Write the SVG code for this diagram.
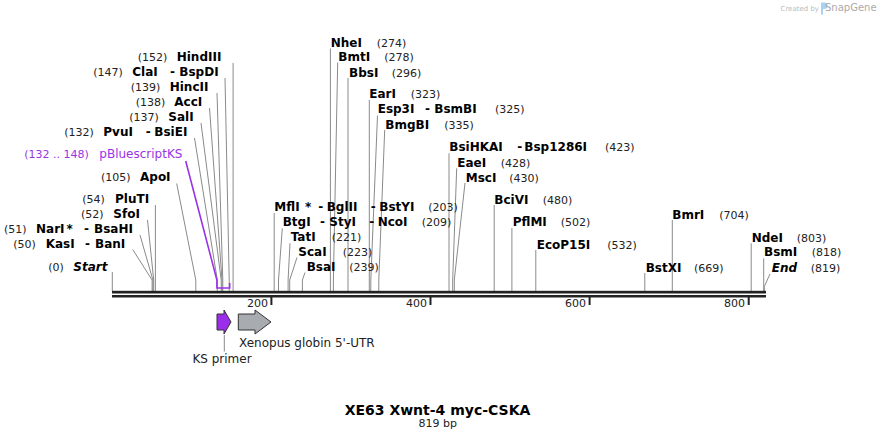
<svg xmlns="http://www.w3.org/2000/svg" width="878" height="441" viewBox="0 0 878 441">
<style>
text{font-family:"DejaVu Sans",Verdana,sans-serif}
.b{font-size:12px;font-weight:bold;fill:#000}
.bi{font-size:12px;font-weight:bold;font-style:italic;fill:#000}
.n{font-size:11px;fill:#222}
.p{font-size:12px;fill:#9933e6}
.pn{font-size:11px;fill:#9933e6}
.f{font-size:12px;fill:#222}
.ln{stroke:#8a8a8a;stroke-width:1;fill:none}
.tk{stroke:#222;stroke-width:2}
.tl{font-size:11px;fill:#222;text-anchor:end}
</style>
<rect width="878" height="441" fill="#fff"/>
<g id="watermark">
<text x="780.5" y="10.5" style="font-size:7px;fill:#bbb">Created by</text>
<path d="M821 2.5h3.2a3.3 3.3 0 0 1 0 6.6h-1.2v5.4h-2z" fill="#a9d1f2"/>
<text x="825" y="11" style="font-size:10px;fill:#aaa">SnapGene</text>
</g>
<g id="connectors">
<path class="ln" d="M233.1 63V291"/>
<path class="ln" d="M225 78L229.2 280V291"/>
<path class="ln" d="M217 93L222.8 280V291"/>
<path class="ln" d="M209.5 108L222 280V291"/>
<path class="ln" d="M201 123L221.2 280V291"/>
<path class="ln" d="M194.5 138L217.3 280V291"/>
<path class="ln" d="M176.7 183.5L195.8 280V291"/>
<path class="ln" d="M155.4 205V291"/>
<path class="ln" d="M147.5 220L153.7 280V291"/>
<path class="ln" d="M140 235L152.9 280V291"/>
<path class="ln" d="M132.7 249.5L152.1 280V291"/>
<path class="ln" d="M112.3 272V291"/>
<path class="ln" d="M330.4 48.5V291"/>
<path class="ln" d="M337.7 62.5L333.4 280V291"/>
<path class="ln" d="M348 78V291"/>
<path class="ln" d="M369.3 100V291"/>
<path class="ln" d="M377.5 115.5L370.8 280V291"/>
<path class="ln" d="M384.7 130L378.8 280V291"/>
<path class="ln" d="M274.2 213V291"/>
<path class="ln" d="M282.3 228.3L278.5 280V291"/>
<path class="ln" d="M290 243.3L288.1 280V291"/>
<path class="ln" d="M297 257.5L289.7 280V291"/>
<path class="ln" d="M305 272.5L302.4 280V291"/>
<path class="ln" d="M449 153.3V291"/>
<path class="ln" d="M456.7 168.3L452.7 280V291"/>
<path class="ln" d="M465 183L454.3 280V291"/>
<path class="ln" d="M494.2 205V291"/>
<path class="ln" d="M511.9 228V291"/>
<path class="ln" d="M535.8 250V291"/>
<path class="ln" d="M672.3 220V291"/>
<path class="ln" d="M644.8 273V291"/>
<path class="ln" d="M751.2 243.3V291"/>
<path class="ln" d="M763.7 258.3V291"/>
<path class="ln" d="M770 274L764.3 286.5V291"/>
<path d="M185.7 161L216.9 280V288H229.7V283" fill="none" stroke="#9933e6" stroke-width="1.6"/>
<path class="ln" d="M224.3 335V351.5"/>
</g>
<g id="backbone">
<rect x="112" y="290.8" width="654" height="2.7" fill="#222"/>
<rect x="112" y="295" width="654" height="2.5" fill="#222"/>
<line class="tk" x1="271.4" y1="297" x2="271.4" y2="305"/>
<line class="tk" x1="430.5" y1="297" x2="430.5" y2="305"/>
<line class="tk" x1="589.6" y1="297" x2="589.6" y2="305"/>
<line class="tk" x1="748.7" y1="297" x2="748.7" y2="305"/>
<text class="tl" x="268" y="307">200</text>
<text class="tl" x="427" y="307">400</text>
<text class="tl" x="586" y="307">600</text>
<text class="tl" x="745" y="307">800</text>
</g>
<g id="HindIII"><text y="61"><tspan class="n" x="137.7">(152)</tspan><tspan class="b" x="176.7">HindIII</tspan></text></g>
<g id="ClaI"><text y="76"><tspan class="n" x="93.3">(147)</tspan><tspan class="b" x="132.3">ClaI</tspan><tspan class="b" x="170">-</tspan><tspan class="b" x="179.3">BspDI</tspan></text></g>
<g id="HincII"><text y="91"><tspan class="n" x="130.7">(139)</tspan><tspan class="b" x="169.7">HincII</tspan></text></g>
<g id="AccI"><text y="106"><tspan class="n" x="135.7">(138)</tspan><tspan class="b" x="174.3">AccI</tspan></text></g>
<g id="SalI"><text y="121"><tspan class="n" x="129.3">(137)</tspan><tspan class="b" x="168.3">SalI</tspan></text></g>
<g id="PvuI"><text y="136"><tspan class="n" x="64.3">(132)</tspan><tspan class="b" x="103.3">PvuI</tspan><tspan class="b" x="145.7">-</tspan><tspan class="b" x="154.3">BsiEI</tspan></text></g>
<g id="pBluescriptKS"><text y="158"><tspan class="pn" x="24.3">(132 .. 148)</tspan><tspan class="p" x="99.3">pBluescriptKS</tspan></text></g>
<g id="ApoI"><text y="181"><tspan class="n" x="101">(105)</tspan><tspan class="b" x="140">ApoI</tspan></text></g>
<g id="PluTI"><text y="203"><tspan class="n" x="82.3">(54)</tspan><tspan class="b" x="115">PluTI</tspan></text></g>
<g id="SfoI"><text y="217.5"><tspan class="n" x="81">(52)</tspan><tspan class="b" x="113.3">SfoI</tspan></text></g>
<g id="NarI"><text y="233"><tspan class="b" x="36">NarI</tspan><tspan class="n" x="4">(51)</tspan><tspan class="b" x="66.5">*</tspan><tspan class="b" x="84">-</tspan><tspan class="b" x="94">BsaHI</tspan></text></g>
<g id="KasI"><text y="247.5"><tspan class="n" x="13.3">(50)</tspan><tspan class="b" x="45.7">KasI</tspan><tspan class="b" x="85">-</tspan><tspan class="b" x="95">BanI</tspan></text></g>
<g id="Start"><text y="271"><tspan class="n" x="48.3">(0)</tspan><tspan class="bi" x="73.3">Start</tspan></text></g>
<g id="NheI"><text y="46.5"><tspan class="b" x="330.7">NheI</tspan><tspan class="n" x="376.7">(274)</tspan></text></g>
<g id="BmtI"><text y="61"><tspan class="b" x="338.3">BmtI</tspan><tspan class="n" x="384.3">(278)</tspan></text></g>
<g id="BbsI"><text y="76.5"><tspan class="b" x="349">BbsI</tspan><tspan class="n" x="391.7">(296)</tspan></text></g>
<g id="EarI"><text y="98"><tspan class="b" x="369.3">EarI</tspan><tspan class="n" x="410.7">(323)</tspan></text></g>
<g id="Esp3I"><text y="113"><tspan class="b" x="377.7">Esp3I</tspan><tspan class="b" x="425">-</tspan><tspan class="b" x="434.3">BsmBI</tspan><tspan class="n" x="495">(325)</tspan></text></g>
<g id="BmgBI"><text y="128.5"><tspan class="b" x="385.3">BmgBI</tspan><tspan class="n" x="444.3">(335)</tspan></text></g>
<g id="MflI"><text y="211"><tspan class="b" x="274.3">MflI</tspan><tspan class="b" x="305">*</tspan><tspan class="b" x="318.3">-</tspan><tspan class="b" x="326.7">BglII</tspan><tspan class="b" x="370.7">-</tspan><tspan class="b" x="379.3">BstYI</tspan><tspan class="n" x="428.3">(203)</tspan></text></g>
<g id="BtgI"><text y="226"><tspan class="b" x="282.7">BtgI</tspan><tspan class="b" x="320">-</tspan><tspan class="b" x="329.3">StyI</tspan><tspan class="b" x="369.3">-</tspan><tspan class="b" x="377.7">NcoI</tspan><tspan class="n" x="421.7">(209)</tspan></text></g>
<g id="TatI"><text y="241"><tspan class="b" x="290.7">TatI</tspan><tspan class="n" x="331.7">(221)</tspan></text></g>
<g id="ScaI"><text y="256"><tspan class="b" x="298.3">ScaI</tspan><tspan class="n" x="342.7">(223)</tspan></text></g>
<g id="BsaI"><text y="271"><tspan class="b" x="306.7">BsaI</tspan><tspan class="n" x="349.3">(239)</tspan></text></g>
<g id="BsiHKAI"><text y="151"><tspan class="b" x="449.3">BsiHKAI</tspan><tspan class="b" x="517.3">-</tspan><tspan class="b" x="524.3">Bsp1286I</tspan><tspan class="n" x="605">(423)</tspan></text></g>
<g id="EaeI"><text y="166.5"><tspan class="b" x="457.3">EaeI</tspan><tspan class="n" x="500.7">(428)</tspan></text></g>
<g id="MscI"><text y="181.5"><tspan class="b" x="465.7">MscI</tspan><tspan class="n" x="509.3">(430)</tspan></text></g>
<g id="BciVI"><text y="203.5"><tspan class="b" x="494.3">BciVI</tspan><tspan class="n" x="542.7">(480)</tspan></text></g>
<g id="PflMI"><text y="226"><tspan class="b" x="512.7">PflMI</tspan><tspan class="n" x="560.7">(502)</tspan></text></g>
<g id="EcoP15I"><text y="248.5"><tspan class="b" x="536.7">EcoP15I</tspan><tspan class="n" x="607.3">(532)</tspan></text></g>
<g id="BmrI"><text y="218.5"><tspan class="b" x="672.3">BmrI</tspan><tspan class="n" x="719.3">(704)</tspan></text></g>
<g id="BstXI"><text y="271.5"><tspan class="b" x="645.7">BstXI</tspan><tspan class="n" x="694">(669)</tspan></text></g>
<g id="NdeI"><text y="241.5"><tspan class="b" x="751.7">NdeI</tspan><tspan class="n" x="796.7">(803)</tspan></text></g>
<g id="BsmI"><text y="256"><tspan class="b" x="764">BsmI</tspan><tspan class="n" x="811.7">(818)</tspan></text></g>
<g id="End"><text y="271.5"><tspan class="bi" x="771.7">End</tspan><tspan class="n" x="810.7">(819)</tspan></text></g>
<g id="KS-primer">
<path d="M217 314H224V310L231 322L224 334V330H217Z" fill="#9b2ee8" stroke="#333" stroke-width="1"/>
<text class="f" x="222" y="363" text-anchor="middle">KS primer</text>
</g>
<g id="Xenopus-globin">
<path d="M238.3 314H255V310L271 322L255 334V330H238.3Z" fill="#a8abb0" stroke="#333" stroke-width="1"/>
<text class="f" x="239" y="347">Xenopus globin 5'-UTR</text>
</g>
<g id="title">
<text x="437.5" y="415" text-anchor="middle" style="font-size:14px;font-weight:bold;fill:#000">XE63 Xwnt-4 myc-CSKA</text>
<text x="437.8" y="427" text-anchor="middle" style="font-size:11px;fill:#222">819 bp</text>
</g>
</svg>
